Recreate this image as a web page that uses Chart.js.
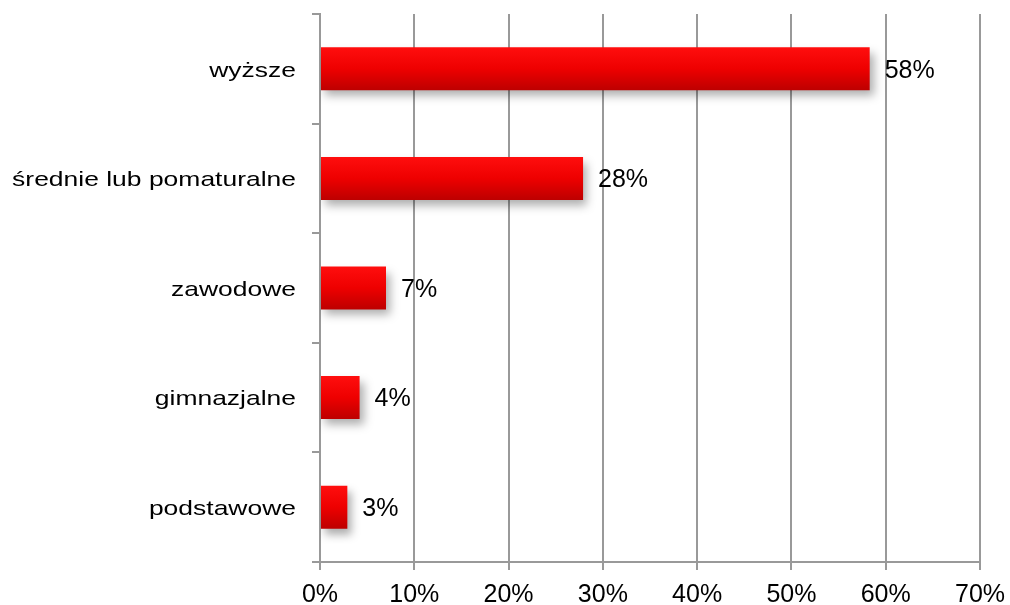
<!DOCTYPE html>
<html>
<head>
<meta charset="utf-8">
<script src="https://cdn.jsdelivr.net/npm/chart.js@4/dist/chart.umd.min.js"></script>
<style>
  html, body { margin: 0; padding: 0; background: #fff; overflow: hidden; }
</style>
</head>
<body>
<canvas id="c" width="1010" height="605" style="width:1010px;height:605px"></canvas>
<script>
// ---- data ----
const categories = ['wyższe', 'średnie lub pomaturalne', 'zawodowe', 'gimnazjalne', 'podstawowe'];
const shares = [58.3, 27.9, 7.0, 4.2, 2.9];
const tickLabels = ['0%', '10%', '20%', '30%', '40%', '50%', '60%', '70%'];

const FONT = "'Liberation Sans', Arial, sans-serif";
const GRID = '#999999';
const BAR_PCT = 0.392;
const CAT_STRETCH = 1.26;

const barGradient = (c) => {
  const ch = c.chart;
  const ys = ch.scales && ch.scales.y;
  if (!ys || !ch.chartArea) return '#e00000';
  const y = ys.getPixelForValue(c.dataIndex);
  const h = ys.height / categories.length * BAR_PCT;
  const g = ch.ctx.createLinearGradient(0, y - h / 2, 0, y + h / 2);
  g.addColorStop(0, '#ff0e0e');
  g.addColorStop(0.5, '#ee0000');
  g.addColorStop(1, '#bd0000');
  return g;
};

const shadowPlugin = {
  id: 'barShadow',
  beforeDatasetDraw(chart) {
    const ctx = chart.ctx;
    ctx.save();
    ctx.shadowColor = 'rgba(0,0,0,0.32)';
    ctx.shadowBlur = 9;
    ctx.shadowOffsetX = 4;
    ctx.shadowOffsetY = 6;
  },
  afterDatasetDraw(chart) {
    chart.ctx.restore();
  }
};

// horizontally widen the category labels (as in the reference)
const stretchPlugin = {
  id: 'stretchCategoryLabels',
  afterUpdate(chart) {
    const s = chart.scales.y;
    if (!s || s._stretched) return;
    const orig = s.drawLabels.bind(s);
    s.drawLabels = function (area) {
      const ctx = this.ctx;
      const R = this.right - this.options.grid.tickLength - this.options.ticks.padding;
      ctx.save();
      ctx.translate(R * (1 - CAT_STRETCH), 2);
      ctx.scale(CAT_STRETCH, 1);
      orig(area);
      ctx.restore();
    };
    s._stretched = true;
  }
};

const labelPlugin = {
  id: 'valueLabels',
  afterDatasetsDraw(chart) {
    const ctx = chart.ctx;
    const meta = chart.getDatasetMeta(0);
    ctx.save();
    ctx.font = '25px ' + FONT;
    ctx.fillStyle = '#000';
    ctx.textAlign = 'left';
    ctx.textBaseline = 'middle';
    meta.data.forEach((el, i) => {
      ctx.fillText(Math.round(shares[i]) + '%', el.x + 15, el.y + 2);
    });
    ctx.restore();
  }
};

new Chart(document.getElementById('c'), {
  type: 'bar',
  data: {
    labels: categories,
    datasets: [{
      data: shares,
      backgroundColor: barGradient,
      borderWidth: 0,
      barPercentage: BAR_PCT,
      categoryPercentage: 1.0
    }]
  },
  options: {
    indexAxis: 'y',
    responsive: false,
    animation: false,
    devicePixelRatio: 1,
    layout: { padding: { top: 14, right: 30, left: 0, bottom: 0 } },
    plugins: {
      legend: { display: false },
      tooltip: { enabled: false }
    },
    scales: {
      x: {
        min: 0,
        max: 70,
        ticks: {
          stepSize: 10,
          color: '#000',
          font: { family: FONT, size: 25 },
          padding: 10,
          maxRotation: 0,
          callback: (v) => tickLabels[Math.round(v / 10)]
        },
        grid: {
          color: GRID,
          lineWidth: 2,
          tickLength: 8,
          tickColor: GRID
        },
        border: { color: GRID, width: 2 },
        afterFit: (s) => { s.height = 43; s.paddingLeft = 0; s.paddingRight = 0; }
      },
      y: {
        offset: true,
        ticks: {
          color: '#000',
          font: { family: FONT, size: 21 },
          padding: 16
        },
        grid: {
          offset: true,
          drawOnChartArea: false,
          drawTicks: true,
          tickLength: 8,
          tickColor: GRID,
          color: GRID,
          lineWidth: 2
        },
        border: { color: GRID, width: 2 },
        afterFit: (s) => { s.width = 320; s.paddingTop = 0; s.paddingBottom = 0; }
      }
    }
  },
  plugins: [stretchPlugin, shadowPlugin, labelPlugin]
});
</script>
</body>
</html>
